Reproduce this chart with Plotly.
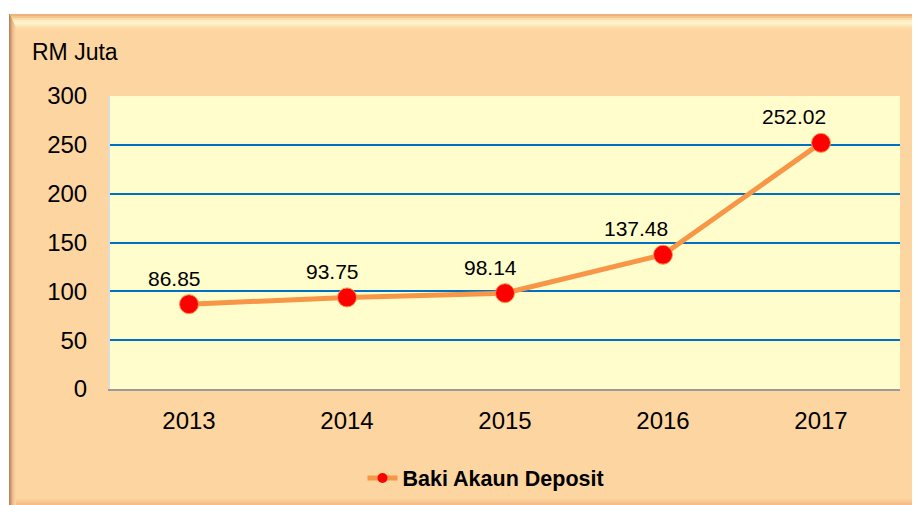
import plotly.graph_objects as go

years = ["2013", "2014", "2015", "2016", "2017"]
baki = [86.85, 93.75, 98.14, 137.48, 252.02]
y_ticks = [0, 50, 100, 150, 200, 250, 300]

# the page puts the figure 8px in from the top-left corner
OFF = 8
W, H = 920, 505
ML, MT = 110 - OFF, 96 - OFF
PW, PH = 790, 293
MR, MB = W - ML - PW, H - MT - PH

PEACH = "#FDD5A1"
FONT = "Arial, Liberation Sans, sans-serif"


def px(x):
    return (x - OFF - ML) / PW


def py(y):
    return (MT + PH - (y - OFF)) / PH


def band(x0, y0, x1, y1, color):
    return dict(type="rect", xref="paper", yref="paper", layer="below",
                x0=px(x0), x1=px(x1), y0=py(y1), y1=py(y0),
                line_width=0, fillcolor=color)


shapes = [
    band(0, 0, W + OFF, 14, "white"),
    band(0, 0, 9, H + OFF, "white"),
]
# bevel on top edge
top = ["#EEB27A", "#F6C48E", "#FCDDAE", "#FFEDC4", "#FFF3CD", "#FFEBC0", "#FEE0B0", "#FDD9A6"]
for i, c in enumerate(top):
    shapes.append(band(9 + i, 14 + 2 * i, W + OFF, 16 + 2 * i, c))
# bevel on left edge
left = ["#B5875F", "#C89570", "#D9A77C", "#E8B888", "#F2C492", "#F8CD9A", "#FBD29E"]
for i, c in enumerate(left):
    shapes.append(band(9 + i, 14 + 2 * i, 10 + i, H + OFF, c))
# bottom shade
bottom = ["#FBCF9A", "#F8C690", "#F4BD88"]
for i, c in enumerate(bottom):
    shapes.append(band(16, 499 + 2 * i, W + OFF, 501 + 2 * i, c))

fig = go.Figure()
fig.add_trace(go.Scatter(
    x=years,
    y=baki,
    mode="lines+markers",
    name="Baki Akaun Deposit",
    showlegend=False,
    line=dict(color="#F79646", width=5),
    marker=dict(color="#FF0000", size=19, line=dict(color="#F79646", width=1)),
))
# legend entry with the small marker used in the original key
fig.add_trace(go.Scatter(
    x=[None],
    y=[None],
    mode="lines+markers",
    name="Baki Akaun Deposit",
    line=dict(color="#F79646", width=5),
    marker=dict(color="#FF0000", size=10),
))

# labels sit a little left of their points, as in the original
for i, v in enumerate(baki):
    label = f"{v:.2f}"
    fig.add_annotation(x=i, y=v, text=label, showarrow=False,
                       xshift=-15 if len(label) < 6 else -27, yshift=26,
                       font=dict(size=21, color="black", family=FONT))

fig.add_annotation(text="RM Juta", xref="paper", yref="paper",
                   x=px(30), y=py(52), xanchor="left", yanchor="middle",
                   showarrow=False, font=dict(size=23, color="black", family=FONT))

fig.update_layout(
    width=W,
    height=H,
    margin=dict(l=ML, r=MR, t=MT, b=MB),
    paper_bgcolor=PEACH,
    plot_bgcolor="#FFFDCC",
    font=dict(family=FONT, size=21, color="black"),
    shapes=shapes,
    showlegend=True,
    legend=dict(orientation="h", x=px(486), y=py(478), xanchor="center", yanchor="middle",
                bgcolor="rgba(0,0,0,0)",
                font=dict(size=21.5, family=FONT, weight="bold")),
    xaxis=dict(
        type="category",
        range=[-0.5, 4.5],
        showgrid=False,
        showline=True,
        linecolor="#9A9A9A",
        linewidth=2,
        ticks="outside",
        ticklen=9,
        tickcolor="rgba(0,0,0,0)",
        tickfont=dict(size=24),
    ),
    yaxis=dict(
        range=[0, 300],
        tickvals=y_ticks,
        showgrid=True,
        gridcolor="#0070C0",
        gridwidth=2,
        zeroline=False,
        showline=True,
        linecolor="#DCDCDC",
        linewidth=2,
        ticks="outside",
        ticklen=16,
        tickcolor="rgba(0,0,0,0)",
        tickfont=dict(size=24),
    ),
)

fig.write_html("out.html")
